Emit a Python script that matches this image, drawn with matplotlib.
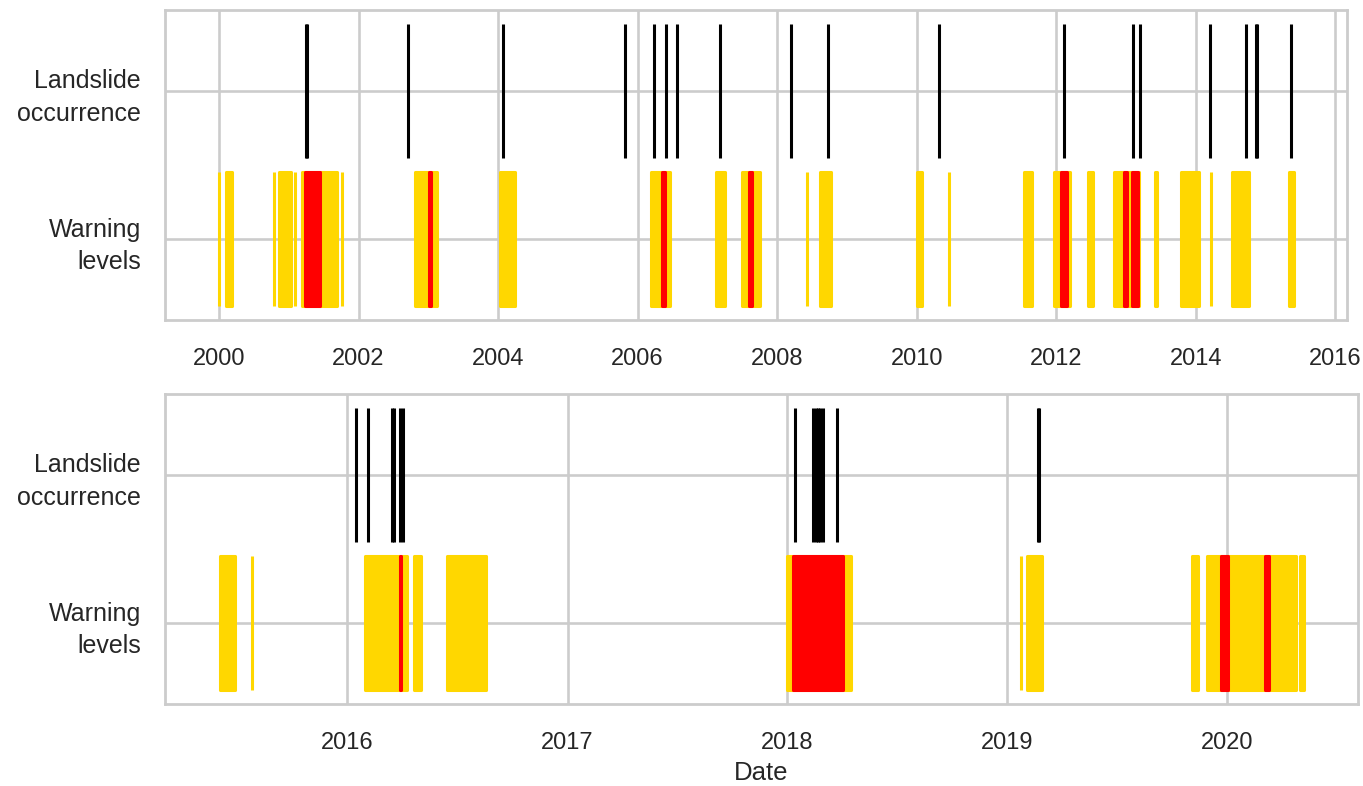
import matplotlib
matplotlib.use("Agg")
import matplotlib.pyplot as plt
import matplotlib.dates as mdates
import seaborn as sns
import pandas as pd

sns.set_theme(style="whitegrid", font_scale=1.5)
plt.rcParams['font.family'] = ['Liberation Sans', 'DejaVu Sans']
plt.rcParams['grid.linewidth'] = 1.9
plt.rcParams['axes.linewidth'] = 2.0

# landslide dates, first period (2000 - mid 2015)
slides_a = ["2001-04-01", "2001-04-05", "2002-09-17", "2004-01-25", "2005-10-27",
            "2006-03-30", "2006-05-29", "2006-07-25", "2007-03-11", "2008-03-14",
            "2008-09-22", "2010-04-27", "2012-02-11", "2013-02-08", "2013-03-16",
            "2014-03-15", "2014-09-23", "2014-11-14", "2014-11-18", "2015-05-13"]

# warning periods (start, end), level 1 = yellow, level 2 = red
yellow_a = [("2000-01-01", "2000-01-01"), ("2000-02-09", "2000-03-10"),
            ("2000-10-14", "2000-10-16"), ("2000-11-12", "2001-01-14"),
            ("2001-02-04", "2001-02-04"), ("2001-03-11", "2001-09-08"),
            ("2001-10-05", "2001-10-05"), ("2002-10-22", "2003-02-14"),
            ("2004-01-10", "2004-03-31"), ("2006-03-12", "2006-06-22"),
            ("2007-02-14", "2007-04-05"), ("2007-07-04", "2007-10-06"),
            ("2008-06-08", "2008-06-08"), ("2008-08-14", "2008-10-08"),
            ("2010-01-03", "2010-01-31"), ("2010-06-17", "2010-06-17"),
            ("2011-07-16", "2011-08-30"), ("2011-12-20", "2012-03-13"),
            ("2012-06-14", "2012-07-15"), ("2012-10-30", "2013-03-08"),
            ("2013-06-03", "2013-06-15"), ("2013-10-15", "2014-01-21"),
            ("2014-03-23", "2014-03-23"), ("2014-07-12", "2014-10-06"),
            ("2015-05-06", "2015-05-30")]
red_a = [("2001-03-28", "2001-06-13"), ("2003-01-03", "2003-01-14"),
         ("2006-05-11", "2006-05-27"), ("2007-08-08", "2007-08-23"),
         ("2012-01-29", "2012-02-29"), ("2012-12-22", "2013-01-05"),
         ("2013-02-04", "2013-03-04")]

# second period (mid 2015 - 2020)
slides_b = ["2016-01-15", "2016-02-05", "2016-03-15", "2016-03-19", "2016-03-29",
            "2016-04-02", "2018-01-14", "2018-02-13", "2018-02-17", "2018-02-21",
            "2018-02-25", "2018-03-01", "2018-03-24", "2019-02-21", "2019-02-23"]
yellow_b = [("2015-06-04", "2015-06-28"), ("2015-07-26", "2015-07-26"),
            ("2016-01-31", "2016-04-09"), ("2016-04-20", "2016-05-03"),
            ("2016-06-14", "2016-08-19"), ("2018-01-01", "2018-04-16"),
            ("2019-01-24", "2019-01-24"), ("2019-02-03", "2019-03-01"),
            ("2019-11-04", "2019-11-14"), ("2019-11-29", "2020-04-25"),
            ("2020-05-02", "2020-05-09")]
red_b = [("2016-03-29", "2016-03-29"), ("2018-01-10", "2018-04-04"),
         ("2019-12-23", "2020-01-03"), ("2020-03-04", "2020-03-12")]

tick_labels = ["Warning\nlevels", "Landslide\noccurrence"]


def spans(periods):
    out = []
    for start, end in periods:
        s = mdates.date2num(pd.Timestamp(start))
        e = mdates.date2num(pd.Timestamp(end))
        out.append((s, max(e - s, 0.5)))
    return out


def draw(ax, slides, yellow, red, step):
    ax.broken_barh(spans(yellow), (-0.45, 0.9), facecolor="gold",
                   edgecolor="gold", linewidth=2.2)
    ax.broken_barh(spans(red), (-0.45, 0.9), facecolor="red",
                   edgecolor="red", linewidth=2.2)
    ax.eventplot(mdates.date2num(pd.to_datetime(slides)), lineoffsets=1,
                 linelengths=0.9, colors="black", linewidths=2.2)
    ax.set_yticks([0, 1])
    ax.set_yticklabels(tick_labels, fontsize=18, linespacing=1.45)
    ax.set_ylim(-0.545, 1.545)
    ax.xaxis.set_major_locator(mdates.YearLocator(step))
    ax.xaxis.set_major_formatter(mdates.DateFormatter("%Y"))
    ax.tick_params(axis="x", labelsize=17, pad=14)
    ax.tick_params(axis="y", pad=11.5)


fig = plt.figure(figsize=(13.63, 7.86), dpi=100)
ax1 = fig.add_axes([0.1211, 0.5929, 0.8674, 0.3944])
ax2 = fig.add_axes([0.1211, 0.1043, 0.8751, 0.3944])

draw(ax1, slides_a, yellow_a, red_a, 2)
ax1.set_xlim(mdates.date2num(pd.Timestamp("1999-03-25")),
             mdates.date2num(pd.Timestamp("2016-03-05")))

draw(ax2, slides_b, yellow_b, red_b, 1)
ax2.set_xlim(mdates.date2num(pd.Timestamp("2015-03-04")),
             mdates.date2num(pd.Timestamp("2020-08-06")))
ax2.set_xlabel("Date", fontsize=18.5, labelpad=5)

fig.savefig("out.png", dpi=100)
